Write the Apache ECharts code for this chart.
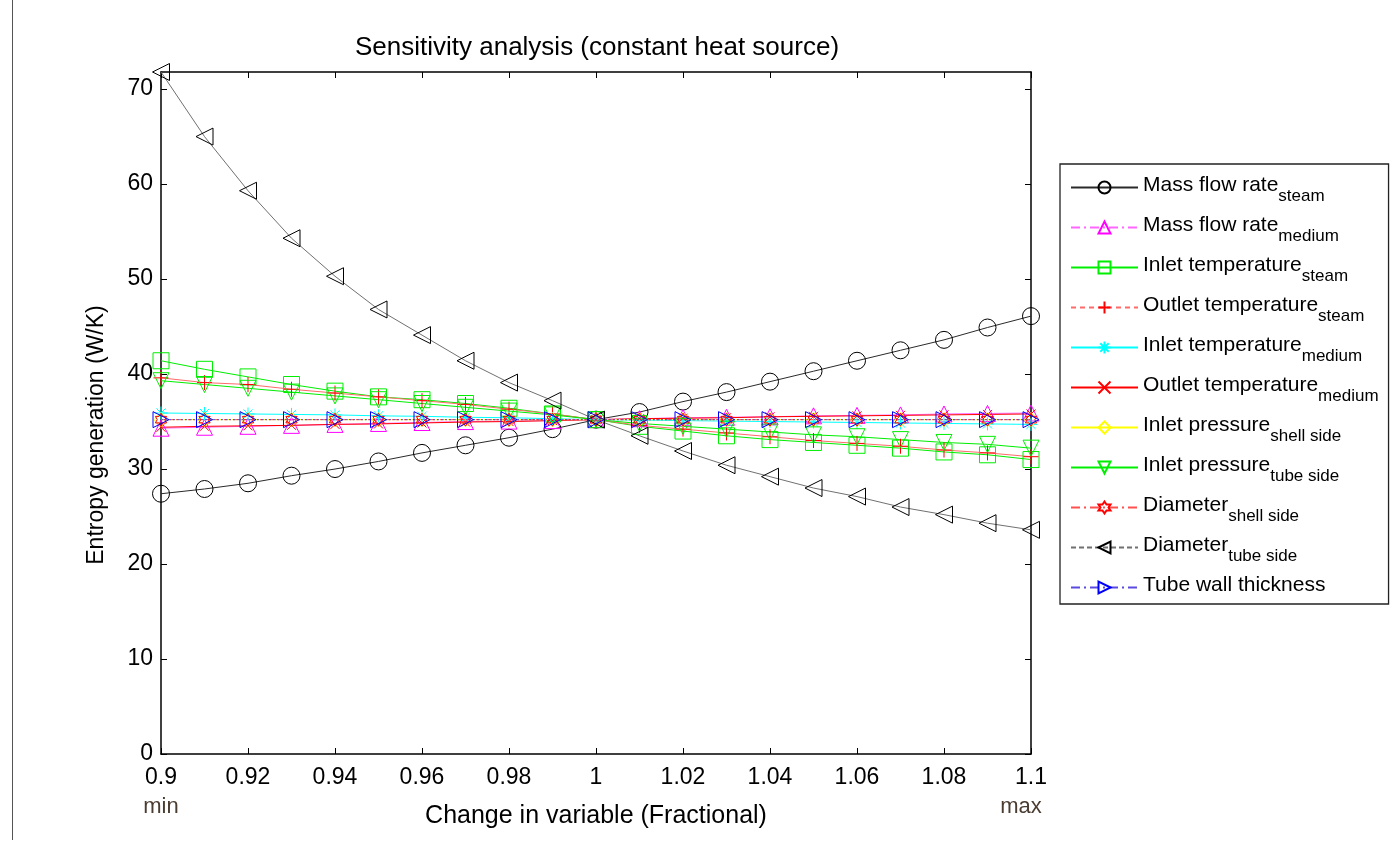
<!DOCTYPE html>
<html><head><meta charset="utf-8">
<script src="https://cdn.jsdelivr.net/npm/echarts@6.0.0/dist/echarts.min.js"></script>
<style>html,body{margin:0;padding:0;background:#fff}#c{width:1400px;height:842px}</style>
</head><body><div id="c"></div>
<script>
// ---- data ----
const xValues = [0.90,0.91,0.92,0.93,0.94,0.95,0.96,0.97,0.98,0.99,1.00,1.01,1.02,1.03,1.04,1.05,1.06,1.07,1.08,1.09,1.10];
const massFlowSteam   = [27.4,27.9,28.5,29.3,30.0,30.8,31.7,32.5,33.3,34.2,35.2,36.0,37.1,38.1,39.2,40.3,41.4,42.5,43.6,44.9,46.1];
const massFlowMedium  = [34.3,34.4,34.5,34.6,34.7,34.8,34.9,35.0,35.05,35.1,35.2,35.3,35.4,35.45,35.5,35.6,35.65,35.7,35.8,35.85,35.9];
const inletTempSteam  = [41.4,40.5,39.7,38.9,38.2,37.6,37.3,36.9,36.4,35.8,35.2,34.5,34.0,33.5,33.1,32.8,32.5,32.2,31.8,31.5,31.0];
const outletTempSteam = [39.6,39.1,38.9,38.4,38.0,37.6,37.2,36.8,36.3,35.8,35.2,34.6,34.2,33.8,33.4,33.0,32.7,32.4,32.0,31.7,31.3];
const inletTempMedium = [35.9,35.85,35.8,35.75,35.7,35.6,35.55,35.45,35.4,35.3,35.2,35.15,35.1,35.05,35.0,34.95,34.9,34.85,34.8,34.75,34.7];
const outletTempMedium= [34.4,34.5,34.55,34.6,34.7,34.75,34.85,34.95,35.0,35.1,35.2,35.3,35.35,35.4,35.5,35.55,35.6,35.65,35.7,35.75,35.8];
const inletPressShell = [35.2,35.2,35.2,35.2,35.2,35.2,35.2,35.2,35.2,35.2,35.2,35.2,35.2,35.2,35.2,35.2,35.2,35.2,35.2,35.2,35.2];
const inletPressTube  = [39.3,38.9,38.5,38.1,37.7,37.3,36.9,36.5,36.1,35.7,35.2,34.8,34.5,34.2,33.9,33.6,33.4,33.1,32.8,32.6,32.2];
const diamShell       = [35.2,35.2,35.2,35.2,35.2,35.2,35.2,35.2,35.2,35.2,35.2,35.2,35.2,35.2,35.2,35.2,35.2,35.2,35.2,35.2,35.2];
const diamTube        = [71.8,65.0,59.3,54.3,50.3,46.8,44.1,41.4,39.1,37.2,35.2,33.5,31.9,30.4,29.2,28.0,27.1,26.0,25.2,24.3,23.6];
const tubeWall        = [35.2,35.2,35.2,35.2,35.2,35.2,35.2,35.2,35.2,35.2,35.2,35.2,35.2,35.2,35.2,35.2,35.2,35.2,35.2,35.2,35.2];

const seriesMain = ['Mass flow rate','Mass flow rate','Inlet temperature','Outlet temperature','Inlet temperature','Outlet temperature','Inlet pressure','Inlet pressure','Diameter','Diameter','Tube wall thickness'];
const seriesSub  = ['steam','medium','steam','steam','medium','medium','shell side','tube side','shell side','tube side',''];
const seriesData = [massFlowSteam,massFlowMedium,inletTempSteam,outletTempSteam,inletTempMedium,outletTempMedium,inletPressShell,inletPressTube,diamShell,diamTube,tubeWall];
const yTicks = [0,10,20,30,40,50,60,70];
const xTitle = 'Change in variable (Fractional)';
const yTitle = 'Entropy generation (W/K)';
const chartTitle = 'Sensitivity analysis (constant heat source)';
const minLabel = 'min', maxLabel = 'max';

// ---- styles ----
const FONT = '"Liberation Sans", Arial, sans-serif';
const P = {
  circle: 'circle',
  triUp: 'path://M5,0L10,10L0,10Z',
  square: 'rect',
  plus: 'path://M5,0L5,10M0,5L10,5',
  star: 'path://M5,0L5,10M0,5L10,5M1.5,1.5L8.5,8.5M1.5,8.5L8.5,1.5',
  cross: 'path://M0,0L10,10M0,10L10,0',
  diamond: 'path://M5,0L10,5L5,10L0,5Z',
  triDown: 'path://M0,0L10,0L5,10Z',
  hexagram: 'path://M5,0L6.443,2.5L9.33,2.5L7.887,5L9.33,7.5L6.443,7.5L5,10L3.557,7.5L0.67,7.5L2.113,5L0.67,2.5L3.557,2.5Z',
  triLeft: 'path://M0,5L10,0L10,10Z',
  triRight: 'path://M10,5L0,0L0,10Z'
};
const DASHDOT = [9,4,2,4];
// c: marker colour, t: legend line type, pc/pt: plotted line colour / type, sz: marker size
const styles = [
  {c:'#000000', t:'solid',  pc:'#2a2a2a', pt:'solid', s:P.circle, sz:17},
  {c:'#ff00ff', t:DASHDOT,  pc:'#ff66ff', pt:'solid', s:P.triUp, sz:16},
  {c:'#00ee00', t:'solid',  pc:'#00ee00', pt:'solid', s:P.square, sz:16},
  {c:'#ff0000', t:[5,4],    pc:'#ff6a6a', pt:'solid', s:P.plus, sz:15},
  {c:'#00ffff', t:'solid',  pc:'#00ffff', pt:'solid', s:P.star, sz:13},
  {c:'#ff0000', t:'solid',  pc:'#ff0000', pt:'solid', s:P.cross, sz:9},
  {c:'#ffff00', t:'solid',  pc:'#ffff00', pt:'solid', s:P.diamond, sz:14},
  {c:'#00ee00', t:'solid',  pc:'#00ee00', pt:'solid', s:P.triDown, sz:16},
  {c:'#ff0000', t:DASHDOT,  pc:'#ff5050', pt:[4,2,1,2], s:P.hexagram, sz:13},
  {c:'#000000', t:[5,3],    pc:'#707070', pt:'solid', s:P.triLeft, sz:17},
  {c:'#0000ff', t:DASHDOT,  pc:'#5a4ae0', pt:[2,2], s:P.triRight, sz:16}
];

const names = seriesMain.map((m,i)=> seriesSub[i] ? m + '_' + seriesSub[i] : m);

const series = seriesData.map((arr,i)=>({
  name: names[i],
  type: 'line',
  data: xValues.map((x,k)=>[x, arr[k]]),
  symbol: styles[i].s,
  symbolSize: styles[i].sz,
  symbolKeepAspect: true,
  showAllSymbol: true,
  lineStyle: {color: styles[i].pc, width: 1, type: styles[i].pt},
  itemStyle: {color: 'rgba(255,255,255,0)', borderColor: styles[i].c, borderWidth: 1},
  emphasis: {disabled: true}
}));

const chart = echarts.init(document.getElementById('c'), null, {renderer: 'canvas'});
const axisLineStyle = {color: '#000', width: 1.5};
chart.setOption({
  animation: false,
  backgroundColor: '#fff',
  title: {
    text: chartTitle, left: 592, top: 30, textAlign: 'center',
    textStyle: {fontFamily: FONT, fontSize: 26, fontWeight: 'normal', color: '#000'}
  },
  grid: {left: 161, top: 72, width: 870, height: 682, containLabel: false, outerBoundsMode: 'none'},
  legend: {
    orient: 'vertical', left: 1060, top: 164,
    padding: [11, 10, 8, 10],
    backgroundColor: '#fff',
    borderColor: '#222', borderWidth: 1.3,
    itemWidth: 67, itemHeight: 15, itemGap: 10,
    data: names.map((n,i)=>({name: n, lineStyle: {type: styles[i].t}})),
    formatter: function(n){
      const i = names.indexOf(n);
      return seriesSub[i] ? '{m|' + seriesMain[i] + '}{s|' + seriesSub[i] + '}' : '{m|' + seriesMain[i] + '}';
    },
    textStyle: {
      fontFamily: FONT, color: '#000',
      rich: {
        m: {fontFamily: FONT, fontSize: 21, lineHeight: 25, verticalAlign: 'top', color: '#000'},
        s: {fontFamily: FONT, fontSize: 17, lineHeight: 17, padding: [13,0,0,0], verticalAlign: 'top', color: '#000'}
      }
    },
    selectedMode: false
  },
  xAxis: [{
    type: 'value', min: 0.9, max: 1.1, interval: 0.02, position: 'bottom',
    name: xTitle, nameLocation: 'middle', nameGap: 50, nameMoveOverlap: false,
    nameTextStyle: {fontFamily: FONT, fontSize: 25, color: '#000'},
    axisLine: {show: true, onZero: false, lineStyle: axisLineStyle},
    axisTick: {show: true, inside: true, length: 6, lineStyle: {color: '#000'}},
    splitLine: {show: false},
    axisLabel: {
      fontFamily: FONT, fontSize: 23, color: '#000', margin: 11, lineHeight: 26,
      formatter: function(v){
        const s = String(Math.round(v*100)/100);
        if (Math.abs(v-0.9) < 1e-9) return s + '\n{mn|' + minLabel + '}';
        if (Math.abs(v-1.1) < 1e-9) return s + '\n{mx|' + maxLabel + '}';
        return s;
      },
      rich: {
        mn: {fontFamily: FONT, fontSize: 22, color: '#4a3c30', lineHeight: 32},
        mx: {fontFamily: FONT, fontSize: 22, color: '#4a3c30', lineHeight: 32, padding: [0, 20, 0, 0]}
      }
    }
  }, {
    type: 'value', min: 0.9, max: 1.1, interval: 0.02, position: 'top',
    axisLine: {show: true, onZero: false, lineStyle: axisLineStyle},
    axisTick: {show: true, inside: true, length: 6, lineStyle: {color: '#000'}},
    axisLabel: {show: false}, splitLine: {show: false}
  }],
  yAxis: [{
    type: 'value', min: 0, max: 71.8, position: 'left',
    name: yTitle, nameLocation: 'middle', nameGap: 53, nameRotate: 90, nameMoveOverlap: false,
    nameTextStyle: {fontFamily: FONT, fontSize: 23, color: '#000', padding: [0, 44, 0, 0]},
    axisLine: {show: true, onZero: false, lineStyle: axisLineStyle},
    axisTick: {show: true, inside: true, length: 6, customValues: yTicks, lineStyle: {color: '#000'}},
    axisLabel: {fontFamily: FONT, fontSize: 23, color: '#000', margin: 8, customValues: yTicks},
    splitLine: {show: false}
  }, {
    type: 'value', min: 0, max: 71.8, position: 'right',
    axisLine: {show: true, onZero: false, lineStyle: axisLineStyle},
    axisTick: {show: true, inside: true, length: 6, customValues: yTicks, lineStyle: {color: '#000'}},
    axisLabel: {show: false}, splitLine: {show: false}
  }],
  graphic: [{
    type: 'line', shape: {x1: 12.5, y1: 0, x2: 12.5, y2: 840},
    style: {stroke: '#555', lineWidth: 1}, silent: true
  }],
  series: series
});
</script>
</body></html>
